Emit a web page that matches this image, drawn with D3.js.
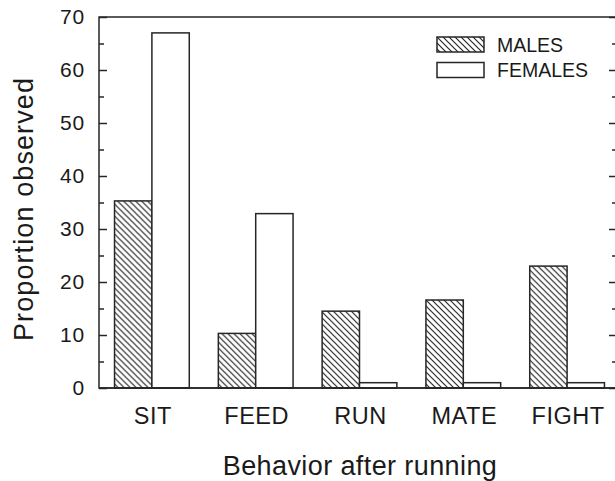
<!DOCTYPE html>
<html>
    <head>
        <meta charset="utf-8">
        <script src="https://d3js.org/d3.v7.min.js"></script>
        <style>
            body {
                margin: 0;
                background: white;
            }
            text {
                font-family: "Liberation Sans", Arial, sans-serif;
                fill: #1a1a1a;
            }
        </style>
    </head>
    <body>
    <script>
        // data
        const categories = ['SIT', 'FEED', 'RUN', 'MATE', 'FIGHT'];
        const series = ['MALES', 'FEMALES'];
        const males = [35.3, 10.3, 14.5, 16.6, 23.0];
        const females = [67.0, 32.9, 1.0, 1.0, 1.0];
        const majorTicks = [0, 10, 20, 30, 40, 50, 60, 70];
        const minorTicks = [5, 15, 25, 35, 45, 55, 65];

        const width = 615;
        const height = 481;
        const plotLeft = 99, plotRight = 616, plotTop = 17, plotBottom = 388;
        const ink = '#262626';

        var svg = d3.select('body')
            .append('svg')
            .attr('width', width)
            .attr('height', height);

        // hatch for the males bars
        svg.append('defs')
            .append('pattern')
            .attr('id', 'hatch')
            .attr('patternUnits', 'userSpaceOnUse')
            .attr('width', 6)
            .attr('height', 6)
            .append('path')
            .attr('d', 'M-1,-1 L7,7 M-1,5 L1,7 M5,-1 L7,1')
            .style('stroke', ink)
            .style('stroke-width', 1.2);

        var x = d3.scaleBand()
            .domain(categories)
            .range([100, 619])
            .paddingInner(0.28)
            .paddingOuter(0.14);
        var xs = d3.scaleBand()
            .domain(series)
            .range([0, x.bandwidth()]);
        var y = d3.scaleLinear()
            .domain([0, 70])
            .range([plotBottom, plotTop]);

        var rows = categories.map(function(c, i) {
            return {cat: c, values: [males[i], females[i]]};
        });

        // bars
        var groups = svg.selectAll('g.cat')
            .data(rows)
            .enter()
            .append('g')
            .attr('class', 'cat')
            .attr('transform', function(d) { return 'translate(' + x(d.cat) + ',0)'; });

        groups.selectAll('rect')
            .data(function(d) { return d.values.map(function(v, j) { return {s: series[j], v: v}; }); })
            .enter()
            .append('rect')
            .attr('x', function(d) { return xs(d.s); })
            .attr('width', xs.bandwidth())
            .attr('y', function(d) { return y(d.v); })
            .attr('height', function(d) { return plotBottom - y(d.v); })
            .style('fill', function(d) { return d.s == 'MALES' ? 'url(#hatch)' : 'white'; })
            .style('stroke', ink)
            .style('stroke-width', 1.5);

        // frame
        svg.append('path')
            .attr('d', 'M' + plotLeft + ',' + plotBottom + 'V' + plotTop + 'H' + plotRight + 'V' + plotBottom + 'Z')
            .style('fill', 'none')
            .style('stroke', ink)
            .style('stroke-width', 1.5);

        // left axis, ticks pointing in
        var yAxis = svg.append('g')
            .attr('transform', 'translate(' + plotLeft + ',0)')
            .call(d3.axisLeft(y).tickValues(majorTicks).tickSizeInner(-8).tickSizeOuter(0).tickPadding(14));
        yAxis.select('.domain').remove();
        yAxis.selectAll('line').style('stroke', ink).style('stroke-width', 1.5);
        yAxis.selectAll('text')
            .style('font-size', '21px')
            .style('letter-spacing', '0.8px')
            .style('font-family', '"Liberation Sans", Arial, sans-serif')
            .attr('fill', '#1a1a1a');

        svg.append('g')
            .attr('transform', 'translate(' + plotLeft + ',0)')
            .call(d3.axisLeft(y).tickValues(minorTicks).tickSizeInner(-5).tickSizeOuter(0).tickFormat(''))
            .call(function(g) { g.select('.domain').remove(); })
            .selectAll('line').style('stroke', ink).style('stroke-width', 1.5);

        // right side ticks
        svg.append('g')
            .attr('transform', 'translate(' + plotRight + ',0)')
            .call(d3.axisRight(y).tickValues(majorTicks).tickSizeInner(-7).tickSizeOuter(0).tickFormat(''))
            .call(function(g) { g.select('.domain').remove(); })
            .selectAll('line').style('stroke', ink).style('stroke-width', 1.5);
        svg.append('g')
            .attr('transform', 'translate(' + plotRight + ',0)')
            .call(d3.axisRight(y).tickValues(minorTicks).tickSizeInner(-4).tickSizeOuter(0).tickFormat(''))
            .call(function(g) { g.select('.domain').remove(); })
            .selectAll('line').style('stroke', ink).style('stroke-width', 1.5);

        // x axis line + category labels
        svg.append('line')
            .attr('x1', plotLeft).attr('x2', plotRight)
            .attr('y1', plotBottom).attr('y2', plotBottom)
            .style('stroke', ink)
            .style('stroke-width', 1.6);

        svg.selectAll('text.cat')
            .data(categories)
            .enter()
            .append('text')
            .attr('class', 'cat')
            .attr('x', function(d) { return x(d) + x.bandwidth() / 2 + 1; })
            .attr('y', 424)
            .attr('text-anchor', 'middle')
            .style('font-size', '23.5px')
            .style('letter-spacing', '0.5px')
            .text(function(d) { return d; });

        // axis titles
        svg.append('text')
            .attr('x', 360)
            .attr('y', 475)
            .attr('text-anchor', 'middle')
            .style('font-size', '27px')
            .style('letter-spacing', '0.4px')
            .text('Behavior after running');

        svg.append('text')
            .attr('transform', 'translate(32.5,209) rotate(-90)')
            .attr('text-anchor', 'middle')
            .style('font-size', '27px')
            .style('letter-spacing', '1.1px')
            .text('Proportion observed');

        // legend
        var legend = svg.selectAll('g.legend')
            .data(series)
            .enter()
            .append('g')
            .attr('class', 'legend')
            .attr('transform', function(d, i) { return 'translate(437,' + (37 + i * 25.5) + ')'; });
        legend.append('rect')
            .attr('width', 47)
            .attr('height', 15)
            .style('fill', function(d) { return d == 'MALES' ? 'url(#hatch)' : 'white'; })
            .style('stroke', ink)
            .style('stroke-width', 1.5);
        legend.append('text')
            .attr('x', 60)
            .attr('y', 14.5)
            .style('font-size', '19.5px')
            .text(function(d) { return d; });
    </script>
    </body>
</html>
